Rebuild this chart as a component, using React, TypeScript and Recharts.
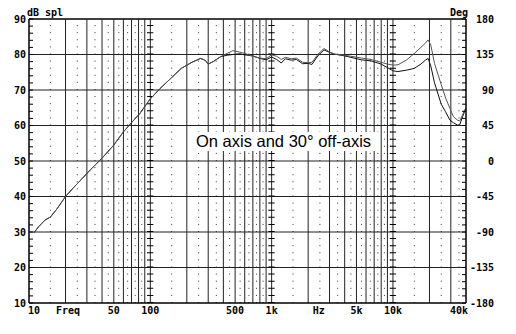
import { LineChart, Line, XAxis, YAxis, ReferenceLine } from "recharts"

const freqs = [
  11, 12, 13.6, 15, 17, 20, 23, 27, 32, 40, 50, 60, 70, 82, 100, 120, 150, 180, 220, 260, 285, 300, 330, 380, 430,
  480, 540, 600, 700, 800, 900, 1000, 1100, 1200, 1300, 1450, 1600, 1800, 2000, 2150, 2400, 2700, 3000, 3300, 4000,
  4500, 5500, 6600, 8000, 9000, 10000, 11000, 13000, 15000, 17000, 18500, 19500, 20500, 22000, 25000, 27000, 29500,
  31500, 34000, 35500, 37500, 39000, 40000,
]

const onAxis = [
  29.8, 31.5, 33.4, 34.2, 36.5, 40, 42.3, 44.8, 47.5, 50.8, 54.5, 58.2, 60.8, 63.4, 67.5, 70.4, 73.5, 76.1, 77.8, 78.9,
  78.3, 77.3, 78, 79.4, 80.3, 81.1, 80.7, 80.3, 79.5, 79, 78.8, 79.9, 79.5, 78.6, 79.2, 78.8, 79, 77.8, 77.7, 77.8, 80,
  81.7, 80.7, 80.1, 79.8, 79.5, 79, 78.6, 77.8, 77.3, 77, 77.1, 78.5, 80.3, 82, 83.2, 84.1, 82.7, 77.5, 71.5, 68, 64.8,
  62.5, 61.5, 61.3, 63, 64.4, 65,
]

const offAxis = [
  29.8, 31.5, 33.4, 34.2, 36.5, 40, 42.3, 44.8, 47.5, 50.8, 54.5, 58.2, 60.8, 63.4, 67.5, 70.4, 73.5, 76.1, 77.8, 78.9,
  78.3, 77.3, 78, 79.4, 79.8, 80, 80.2, 79.9, 79.6, 78.9, 78.5, 79.3, 78.6, 77.6, 78.8, 78.4, 78.6, 77.4, 77.5, 77.2,
  79.6, 81.3, 80.6, 80.1, 79.6, 79.2, 78.5, 78.2, 77.3, 76.3, 75.4, 75.2, 75.6, 76.1, 77.3, 78.4, 78.9, 76.8, 72, 66,
  64, 61.5, 60.8, 60.1, 60.2, 62.5, 64, 64.5,
]

// x tick labels (Freq / Hz sit between the numbers)
const xTicks = [10, 21, 50, 100, 500, 1000, 2450, 5000, 10000, 40000]
const xLabels = ["10", "Freq", "50", "100", "500", "1k", "Hz", "5k", "10k", "40k"]

const dbTicks = [10, 20, 30, 40, 50, 60, 70, 80, 90]

const majorX = [20, 30, 40, 50, 60, 70, 80, 90, 100, 200, 300, 400, 500, 600, 700, 800, 900, 1000, 2000, 3000, 4000, 5000, 6000, 7000, 8000, 9000, 10000, 20000, 30000]
const minorX = [15, 25, 35, 45, 55, 65, 75, 85, 95, 150, 250, 350, 450, 550, 650, 750, 850, 950, 1500, 2500, 3500, 4500, 5500, 6500, 7500, 8500, 9500, 15000, 25000, 35000]
const decadeX = [100, 1000, 10000]

const data = freqs.map((f, i) => ({ f, on: onAxis[i], off: offAxis[i] }))

const mono = "'DejaVu Sans Mono', monospace"
const steps = (a: number, b: number, s: number) => {
  const out: number[] = []
  for (let v = a; v <= b; v += s) out.push(v)
  return out
}

const LeftTick = (props: any) => {
  const { x, y, payload } = props
  const v = payload.value
  return (
    <g>
      <line x1={x + 3} x2={x + 7} y1={y} y2={y} stroke="#000" />
      {v % 10 === 0 && (
        <text x={x} y={y + 3.5} textAnchor="end" fontFamily={mono} fontWeight="bold" fontSize={10} fill="#000">
          {v}
        </text>
      )}
    </g>
  )
}

const RightTick = (props: any) => {
  const { x, y, payload } = props
  const v = payload.value
  return (
    <g>
      <line x1={x - 4} x2={x} y1={y} y2={y} stroke="#000" />
      {v % 45 === 0 && (
        <text x={x + 28} y={y + 3.5} textAnchor="end" fontFamily={mono} fontWeight="bold" fontSize={10} fill="#000">
          {v}
        </text>
      )}
    </g>
  )
}

const BottomTick = (props: any) => {
  const { x, y, payload, index } = props
  const label = xLabels[xTicks.indexOf(payload.value)] ?? ""
  const anchor = index === 0 ? "start" : label === "40k" ? "end" : "middle"
  const dx = index === 0 ? -1 : label === "40k" ? 2 : 0
  return (
    <text x={x + dx} y={y + 7.5} textAnchor={anchor} fontFamily={mono} fontWeight="bold" fontSize={10} fill="#000">
      {label}
    </text>
  )
}

export default function App() {
  return (
    <div style={{ position: "relative", width: 516, height: 334, background: "#fff" }}>
      <style>{"body{margin:0}"}</style>
      <LineChart width={516} height={334} data={data} margin={{ top: 19, right: 0, bottom: 0, left: 0 }}>
        <XAxis
          dataKey="f"
          type="number"
          scale="log"
          domain={[10, 40000]}
          allowDataOverflow
          ticks={xTicks}
          interval={0}
          height={31}
          tickSize={0}
          tickMargin={3}
          tick={<BottomTick />}
          axisLine={{ stroke: "#000", strokeWidth: 1.5 }}
        />
        <YAxis
          yAxisId="db"
          domain={[10, 90]}
          allowDataOverflow
          ticks={steps(10, 90, 2)}
          interval={0}
          width={29}
          tickSize={0}
          tickMargin={3}
          tick={<LeftTick />}
          axisLine={{ stroke: "#000", strokeWidth: 1.5 }}
        />
        <YAxis
          yAxisId="deg"
          orientation="right"
          type="number"
          domain={[-180, 180]}
          allowDataOverflow
          ticks={steps(-180, 180, 9)}
          interval={0}
          width={50}
          tickSize={0}
          tickMargin={0}
          tick={<RightTick />}
          axisLine={{ stroke: "#000", strokeWidth: 1.5 }}
        />
        {minorX.map((v) => (
          <ReferenceLine key={"m" + v} yAxisId="db" x={v} stroke="#333" strokeDasharray="1 6.1" />
        ))}
        {dbTicks.slice(1, -1).map((v) => (
          <ReferenceLine key={"h" + v} yAxisId="db" y={v} stroke="#222" />
        ))}
        <ReferenceLine yAxisId="db" y={90} stroke="#000" strokeWidth={1.5} />
        {majorX.map((v) => (
          <ReferenceLine key={"v" + v} yAxisId="db" x={v} stroke="#222" />
        ))}
        {decadeX.map((v) => (
          <ReferenceLine key={"d" + v} yAxisId="db" x={v} stroke="#000" strokeWidth={6} strokeDasharray="1 6.1" />
        ))}
        <text x={27} y={16} fontFamily={mono} fontWeight="bold" fontSize={10} fill="#000">
          dB spl
        </text>
        <text x={450} y={16} fontFamily={mono} fontWeight="bold" fontSize={10} fill="#000">
          Deg
        </text>
        <Line yAxisId="db" dataKey="off" stroke="#111" strokeWidth={1} dot={false} isAnimationActive={false} />
        <Line yAxisId="db" dataKey="on" stroke="#555" strokeWidth={1} dot={false} isAnimationActive={false} />
      </LineChart>
      <div
        style={{
          position: "absolute",
          left: 191,
          top: 132,
          width: 188,
          height: 19,
          background: "#fff",
          fontFamily: "'Liberation Sans', Arial, sans-serif",
          fontSize: 16.5,
          lineHeight: "19px",
          paddingLeft: 5,
          boxSizing: "border-box",
          whiteSpace: "nowrap",
          color: "#000",
        }}
      >
        On axis and 30° off-axis
      </div>
    </div>
  )
}
